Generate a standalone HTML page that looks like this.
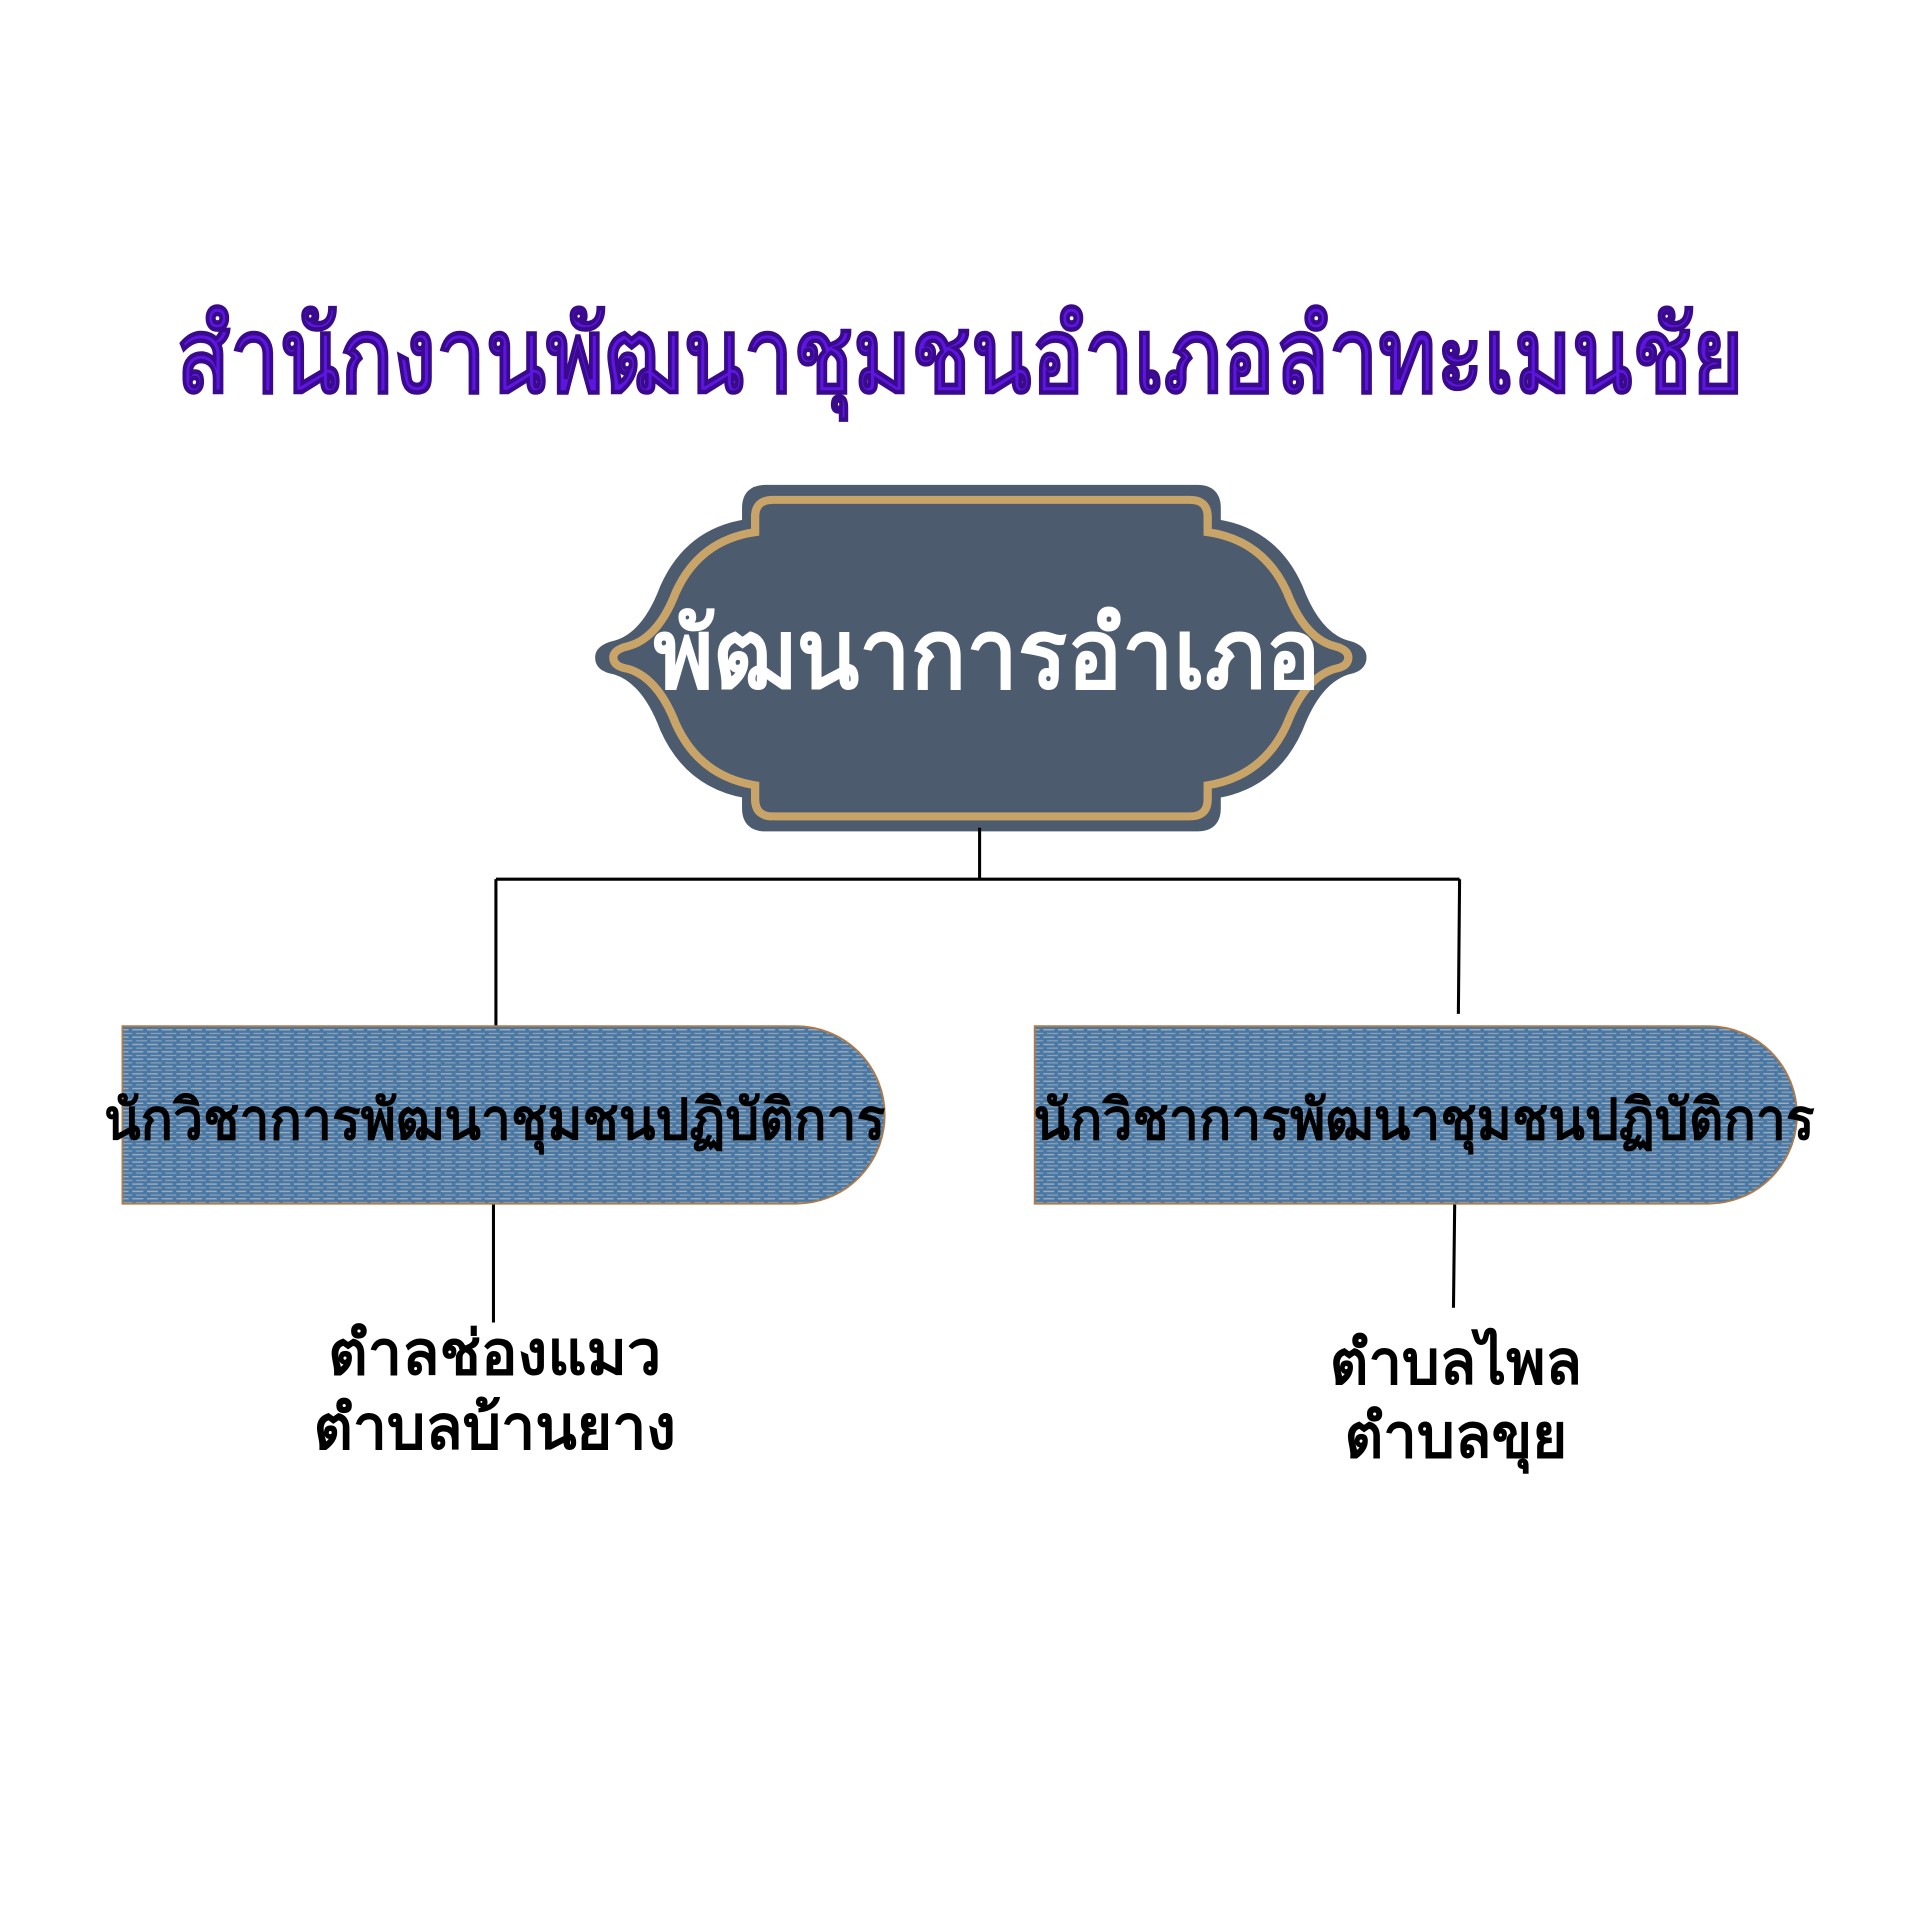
<!DOCTYPE html>
<html><head><meta charset="utf-8"><style>html,body{margin:0;padding:0;background:#fff}svg{display:block}</style></head>
<body>
<svg width="1920" height="1920" viewBox="0 0 1568 1568" xmlns="http://www.w3.org/2000/svg">
<defs>
<pattern id="st" width="12" height="6" patternUnits="userSpaceOnUse">
<rect width="12" height="6" fill="#4a78a4"/>
<line x1="0" y1="1" x2="9" y2="1" stroke="#a9b4bf" stroke-width="1"/>
<line x1="3" y1="4" x2="12" y2="4" stroke="#8ea2b6" stroke-width="1"/>
</pattern>
</defs>
<rect width="1568" height="1568" fill="#fff"/>
<text x="784" y="320" text-anchor="middle" font-family="'Liberation Sans',sans-serif" font-weight="bold" font-size="86" fill="#5c16e0" stroke="#3a0a8c" stroke-width="1" textLength="1280" lengthAdjust="spacingAndGlyphs">สำนักงานพัฒนาชุมชนอำเภอลำทะเมนชัย</text>

<path d="M625 400 H978 Q993 400 993 415 V428 Q1040 435 1060 480 Q1075 520 1100 527 Q1112 530 1112 537 Q1112 545 1100 547 Q1075 555 1060 595 Q1040 640 993 648 V660 Q993 675 978 675 H625 Q610 675 610 660 V648 Q563 640 543 595 Q528 555 503 547 Q490 545 490 537 Q490 530 503 527 Q528 520 543 480 Q563 435 610 428 V415 Q610 400 625 400 Z" fill="#4d5b6f" stroke="#4d5b6f" stroke-width="8"/>
<path d="M625 400 H978 Q993 400 993 415 V428 Q1040 435 1060 480 Q1075 520 1100 527 Q1112 530 1112 537 Q1112 545 1100 547 Q1075 555 1060 595 Q1040 640 993 648 V660 Q993 675 978 675 H625 Q610 675 610 660 V648 Q563 640 543 595 Q528 555 503 547 Q490 545 490 537 Q490 530 503 527 Q528 520 543 480 Q563 435 610 428 V415 Q610 400 625 400 Z" fill="none" stroke="#c9a468" stroke-width="7" transform="translate(801 537) scale(0.965 0.94) translate(-801 -537)"/>
<text x="806" y="562" text-anchor="middle" font-family="'Liberation Serif',serif" font-weight="bold" font-size="80" fill="#fff" textLength="545" lengthAdjust="spacingAndGlyphs">พัฒนาการอำเภอ</text>

<g stroke="#000" stroke-width="2.5" fill="none">
<line x1="800" y1="676" x2="800" y2="718"/>
<line x1="405" y1="718" x2="1192" y2="718"/>
<line x1="405" y1="718" x2="405" y2="838"/>
<line x1="1192" y1="718" x2="1191" y2="828"/>
<line x1="403" y1="970" x2="403" y2="1080"/>
<line x1="1188" y1="983" x2="1187" y2="1068"/>
</g>

<path d="M100 838 H650 A72.5 72.5 0 0 1 650 983 H100 Z" fill="url(#st)" stroke="#b07a48" stroke-width="1.5"/>
<path d="M845 838 H1395 A72.5 72.5 0 0 1 1395 983 H845 Z" fill="url(#st)" stroke="#b07a48" stroke-width="1.5"/>
<text x="404" y="930" text-anchor="middle" font-family="'Liberation Serif',serif" font-weight="bold" font-size="46" fill="#000" textLength="638" lengthAdjust="spacingAndGlyphs">นักวิชาการพัฒนาชุมชนปฏิบัติการ</text>
<text x="1163" y="930" text-anchor="middle" font-family="'Liberation Serif',serif" font-weight="bold" font-size="46" fill="#000" textLength="638" lengthAdjust="spacingAndGlyphs">นักวิชาการพัฒนาชุมชนปฏิบัติการ</text>

<g font-family="'Liberation Serif',serif" font-weight="bold" font-size="50" fill="#000" text-anchor="middle">
<text x="404" y="1122" textLength="272" lengthAdjust="spacingAndGlyphs">ตำลช่องแมว</text>
<text x="404" y="1183" textLength="296" lengthAdjust="spacingAndGlyphs">ตำบลบ้านยาง</text>
<text x="1189" y="1130" textLength="206" lengthAdjust="spacingAndGlyphs">ตำบลไพล</text>
<text x="1189" y="1190" textLength="182" lengthAdjust="spacingAndGlyphs">ตำบลขุย</text>
</g>
</svg>
</body></html>
